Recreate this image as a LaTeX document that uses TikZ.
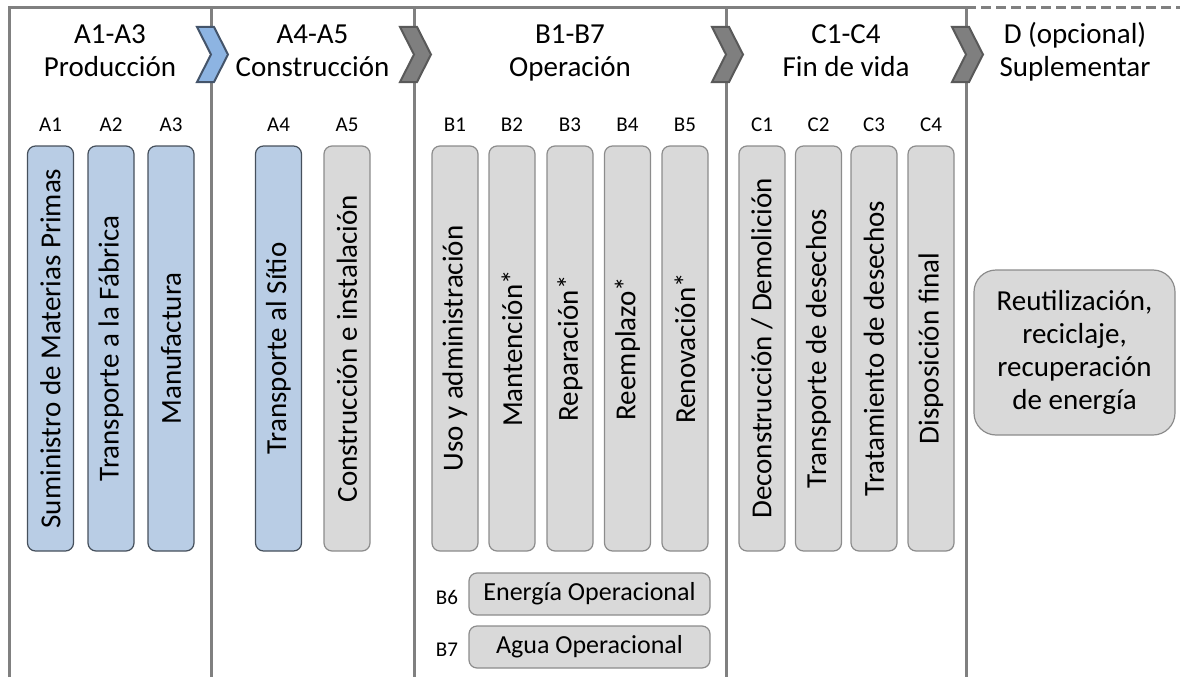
\documentclass[tikz,border=0pt]{standalone}
\usepackage{fontspec}
\setmainfont{Carlito}
\definecolor{frame}{HTML}{808080}
\definecolor{bluefill}{HTML}{B9CDE5}
\definecolor{blueedge}{HTML}{46505C}
\definecolor{grayfill}{HTML}{D9D9D9}
\definecolor{grayedge}{HTML}{8C8C8C}
\definecolor{chevblue}{HTML}{8DB4E2}
\definecolor{chevgray}{HTML}{7F7F7F}
\definecolor{chevedge}{HTML}{595959}
\definecolor{chevblueedge}{HTML}{44546A}

\begin{document}
\begin{tikzpicture}[x=1pt,y=-1pt,
  frameline/.style={draw=frame,line width=3pt},
  stage/.style={rounded corners=8pt, line width=1.2pt, rotate=90,
    minimum width=405pt, minimum height=46pt, inner sep=0pt,
    font=\fontsize{29}{35}\selectfont},
  bluebox/.style={stage, fill=bluefill, draw=blueedge},
  graybox/.style={stage, fill=grayfill, draw=grayedge},
  widebox/.style={rounded corners=8pt, line width=1.2pt, fill=grayfill, draw=grayedge,
    minimum width=241pt, minimum height=42pt, inner sep=0pt,
    font=\fontsize{26}{31}\selectfont},
  hdr/.style={anchor=base, inner sep=0pt, font=\fontsize{29}{35}\selectfont},
  lbl/.style={anchor=base, inner sep=0pt, font=\fontsize{21}{25}\selectfont},
  chevron/.style={line width=2pt, line join=miter}
]
\useasboundingbox (0,0) rectangle (1180,677);

% frame and column dividers
\draw[frameline] (9,677) -- (9,8) -- (966,8);
\draw[frameline, dash pattern=on 10pt off 5pt] (966,8) -- (1180,8);
\foreach \xd in {211,414,726,966}
  \draw[frameline] (\xd,8) -- (\xd,677);

% chevrons between the stages
\draw[chevron, fill=chevblue, draw=chevblueedge]
  (197,27) -- (214,27) -- (228,54.5) -- (214,82) -- (197,82) -- (211,54.5) -- cycle;
\foreach \xd in {414,726,966}
  \draw[chevron, fill=chevgray, draw=chevedge]
    ({\xd-14},27) -- ({\xd+3},27) -- ({\xd+17},54.5) -- ({\xd+3},82) -- ({\xd-14},82) -- (\xd,54.5) -- cycle;

% stage headers
\node[hdr] (h1a) at (110,43.5) {A1-A3};
\node[hdr] (h1b) at (110,77) {Producción};
\node[hdr] (h2a) at (312.5,43.5) {A4-A5};
\node[hdr] (h2b) at (312.5,77) {Construcción};
\node[hdr] (h3a) at (570,43.5) {B1-B7};
\node[hdr] (h3b) at (570,77) {Operación};
\node[hdr] (h4a) at (846,43.5) {C1-C4};
\node[hdr] (h4b) at (846,77) {Fin de vida};
\node[hdr] (h5a) at (1075,43.5) {D (opcional)};
\node[hdr] (h5b) at (1075,77) {Suplementar};

% module codes
\foreach \xm/\code in {50.5/A1,111/A2,171/A3,278.5/A4,347/A5,
    455/B1,512/B2,570/B3,627.5/B4,685/B5,762/C1,818.5/C2,874/C3,931/C4}
  \node[lbl] (l\code) at (\xm,131) {\code};

% modules
\node[bluebox] (a1) at (50.5,348.5) {Suministro de Materias Primas};
\node[bluebox] (a2) at (111,348.5) {Transporte a la Fábrica};
\node[bluebox] (a3) at (171,348.5) {Manufactura};
\node[bluebox] (a4) at (278.5,348.5) {Transporte al Sítio};
\node[graybox] (a5) at (347,348.5) {Construcción e instalación};
\node[graybox] (b1) at (455,348.5) {Uso y administración};
\node[graybox] (b2) at (512,348.5) {Mantención*};
\node[graybox] (b3) at (570,348.5) {Reparación*};
\node[graybox] (b4) at (627.5,348.5) {Reemplazo*};
\node[graybox] (b5) at (685,348.5) {Renovación*};
\node[graybox] (c1) at (762,348.5) {Deconstrucción / Demolición};
\node[graybox] (c2) at (818.5,348.5) {Transporte de desechos};
\node[graybox] (c3) at (874,348.5) {Tratamiento de desechos};
\node[graybox] (c4) at (931,348.5) {Disposición final};

% operational use modules
\node[lbl] (lB6) at (447,604) {B6};
\node[lbl] (lB7) at (447,656) {B7};
\node[widebox] (b6) at (589.5,594) {Energía Operacional};
\node[widebox] (b7) at (589.5,647) {Agua Operacional};

% supplementary module
\node[rounded corners=22pt, line width=1.2pt, fill=grayfill, draw=grayedge,
  minimum width=201pt, minimum height=165pt, inner sep=0pt, align=center,
  font=\fontsize{29}{33}\selectfont] (d) at (1074.5,352.5)
  {Reutilización,\\reciclaje,\\recuperación\\de energía};
\end{tikzpicture}
\end{document}
